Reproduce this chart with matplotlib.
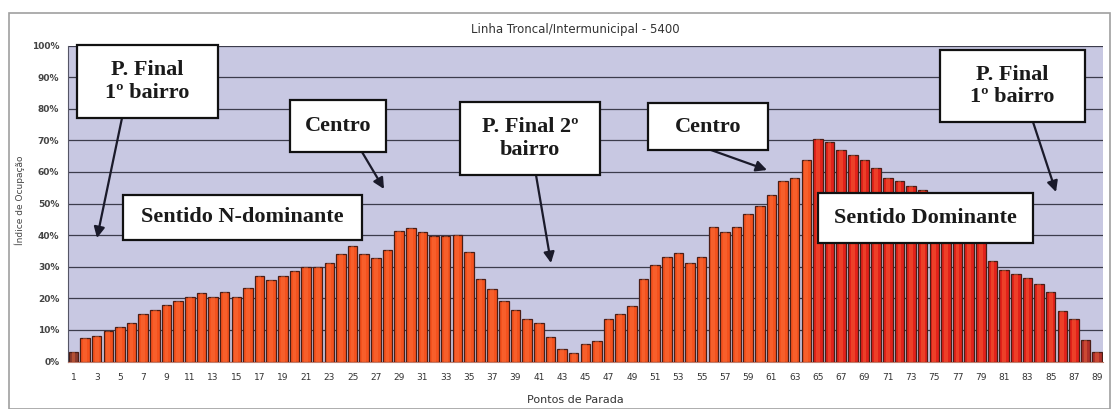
import matplotlib
matplotlib.use("Agg")
import matplotlib.pyplot as plt
from matplotlib.patches import Rectangle
import numpy as np

# ---- data ----
stops = list(range(1, 90))
occupancy = [
    2.9, 7.4, 8.2, 9.7, 11.0, 12.2, 15.0, 16.4, 17.9, 19.0,
    20.3, 21.8, 20.3, 21.9, 20.3, 23.2, 27.1, 25.9, 27.1, 28.7,
    30.0, 29.8, 31.3, 34.1, 36.7, 34.1, 32.7, 35.3, 41.4, 42.4,
    41.1, 39.8, 39.8, 40.0, 34.7, 26.0, 23.1, 19.2, 16.2, 13.3,
    12.2, 7.8, 3.8, 2.6, 5.4, 6.6, 13.3, 15.0, 17.5, 26.0,
    30.4, 33.0, 34.3, 31.3, 33.0, 42.6, 41.0, 42.6, 46.7, 49.3,
    52.8, 57.1, 58.2, 63.9, 70.4, 69.6, 66.8, 65.4, 63.9, 61.1,
    58.0, 57.2, 55.6, 54.3, 52.0, 49.0, 46.0, 43.0, 40.0, 31.7,
    28.8, 27.6, 26.4, 24.4, 22.0, 16.0, 13.6, 6.7, 3.0,
]
tick_labels = [str(n) for n in range(1, 90, 2)]
yticks = list(range(0, 101, 10))
title = "Linha Troncal/Intermunicipal - 5400"
ylabel = "Índice de Ocupação"
xlabel = "Pontos de Parada"

W, H = 1117, 409
fig = plt.figure(figsize=(W / 100, H / 100), dpi=100)
fig.patch.set_facecolor("white")

def fx(x):
    return x / W

def fy(y):
    return 1 - y / H

# outer chart frame
fig.add_artist(Rectangle((fx(9), fy(409)), fx(1110) - fx(9), fy(13) - fy(409),
                         transform=fig.transFigure, fill=False,
                         edgecolor="#a0a0a0", linewidth=1.2))

left, right = 67.6, 1103
top, bottom = 45.5, 361.5
ax = fig.add_axes([fx(left), fy(bottom), fx(right) - fx(left), fy(top) - fy(bottom)])
ax.set_facecolor("#C8C8E2")

colors = []
for s in stops:
    if s == 1:
        colors.append("#8C3A2C")
    elif s >= 88:
        colors.append("#B0302A")
    elif s >= 65:
        colors.append("#E2221A")
    else:
        colors.append("#F4521E")

ax.bar(stops, occupancy, width=0.82, color=colors, edgecolor="#4A1E16",
       linewidth=0.9, zorder=3)
# lighter inner highlight
ax.bar(stops, occupancy, width=0.32, color="#FF7A45", alpha=0.35,
       linewidth=0, zorder=4)

ax.set_xlim(0.5, 89.5)
ax.set_ylim(0, 100)
ax.set_yticks(yticks)
ax.set_yticklabels([f"{v}%" for v in yticks], fontsize=6.5, color="#444444",
                   fontweight="bold")
ax.set_xticks(list(range(1, 90, 2)))
ax.set_xticklabels(tick_labels, fontsize=6.5, color="#333333")
ax.tick_params(axis="both", length=0, pad=6)
ax.tick_params(axis="x", pad=8)
ax.grid(axis="y", color="#3c3c4c", linewidth=0.9, zorder=1)
for sp in ["top", "right"]:
    ax.spines[sp].set_visible(False)
ax.spines["left"].set_color("#555566")
ax.spines["bottom"].set_color("#c08070")

fig.text(fx(575), fy(30), title, ha="center", va="center", fontsize=8.5,
         color="#333333")
fig.text(fx(20), fy(200), ylabel, ha="center", va="center", rotation=90,
         fontsize=6.5, color="#444444")
fig.text(fx(575), fy(400), xlabel, ha="center", va="center", fontsize=8,
         color="#333333")

def box(x0, y0, x1, y1, text, fs=16):
    fig.add_artist(Rectangle((fx(x0), fy(y1)), fx(x1) - fx(x0), fy(y0) - fy(y1),
                             transform=fig.transFigure, facecolor="white",
                             edgecolor="#111111", linewidth=1.6, zorder=10))
    t = fig.text(fx((x0 + x1) / 2), fy((y0 + y1) / 2), text, ha="center",
                 va="center", fontsize=fs, fontweight="bold",
                 family="Liberation Serif", color="#1a1a1a",
                 linespacing=1.2, zorder=11)
    return t

def arrow(x0, y0, x1, y1):
    ax.annotate("", xy=(fx(x1), fy(y1)), xytext=(fx(x0), fy(y0)),
                xycoords="figure fraction", textcoords="figure fraction",
                arrowprops=dict(arrowstyle="-|>", color="#1a1a2a", lw=1.6,
                                mutation_scale=16, shrinkA=0, shrinkB=0),
                zorder=9, annotation_clip=False)

box(77, 45, 218, 118, "P. Final\n1º bairro")
arrow(122, 118, 97, 238)
box(290, 100, 386, 152, "Centro")
arrow(362, 152, 384, 189)
box(123, 195, 362, 240, "Sentido N-dominante")
box(460, 102, 600, 175, "P. Final 2º\nbairro")
arrow(536, 175, 551, 263)
box(648, 103, 768, 150, "Centro")
arrow(697, 145, 767, 170)
box(818, 193, 1033, 243, "Sentido Dominante")
box(940, 50, 1085, 122, "P. Final\n1º bairro")
arrow(1033, 122, 1056, 192)

fig.savefig("out.png", dpi=100)
